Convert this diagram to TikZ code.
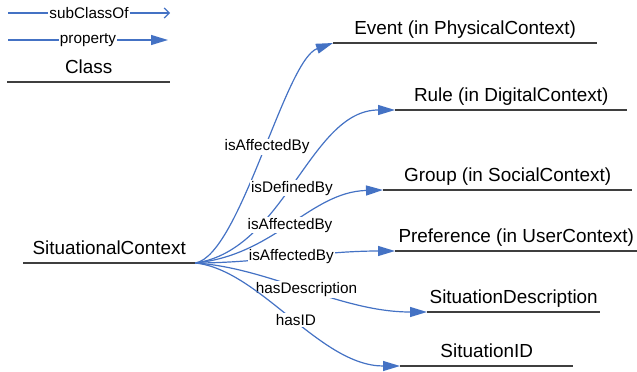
\documentclass[tikz,border=0pt]{standalone}
\usepackage{fontspec}
\setmainfont{Liberation Sans}
\usetikzlibrary{arrows.meta}
\definecolor{eblue}{HTML}{4472C4}
\definecolor{cgray}{HTML}{3F3F3F}
\begin{document}
\begin{tikzpicture}[x=1pt,y=-1pt,
  cls/.style={inner xsep=0pt, inner ysep=8.5pt, text depth=0pt, anchor=south west,
    font=\fontsize{18.9}{22}\selectfont},
  clsline/.style={draw=cgray, line width=1.5pt},
  prop/.style={draw=eblue, line width=1.2pt, -{Triangle[length=17pt,width=10pt]}},
  sub/.style={draw=eblue, line width=1.2pt, -{Straight Barb[length=5pt,width=10pt,line width=1.2pt]}},
  elabel/.style={fill=white, inner sep=1pt, text=black, font=\fontsize{15.3}{17}\selectfont}]
\useasboundingbox (0,0) rectangle (637,372);
% legend
\coordinate (la) at (8,13);
\coordinate (lb) at (170,13);
\draw[sub] (la) -- node[elabel]{subClassOf} (lb);
\coordinate (pa) at (8,40);
\coordinate (pb) at (168,40);
\draw[prop] (pa) -- node[elabel]{property} (pb);
\node[cls, minimum width=163pt] (lc) at (7,82) {Class};
\draw[clsline] (lc.south west) -- (lc.south east);
% classes
\node[cls, minimum width=172pt] (sc) at (23,263) {SituationalContext};
\node[cls, minimum width=264pt] (ev) at (333,43) {Event (in PhysicalContext)};
\node[cls, minimum width=232pt] (ru) at (395,110) {Rule (in DigitalContext)};
\node[cls, minimum width=249pt] (gr) at (383,190) {Group (in SocialContext)};
\node[cls, minimum width=242pt] (pr) at (395,251) {Preference (in UserContext)};
\node[cls, minimum width=173pt] (sd) at (427,312) {SituationDescription};
\node[cls, minimum width=173pt] (si) at (400,366) {SituationID};
\foreach \n in {sc,ev,ru,gr,pr,sd,si}
  \draw[clsline] (\n.south west) -- (\n.south east);
% properties
\draw[prop] (sc.south east) .. controls (240,255) and (285,60) .. node[elabel,pos=0.53]{isAffectedBy} (ev.south west);
\draw[prop] (sc.south east) .. controls (285,250) and (310,110) .. node[elabel,pos=0.47]{isDefinedBy} (ru.south west);
\draw[prop] (sc.south east) .. controls (275,255) and (310,192) .. node[elabel,pos=0.49]{isAffectedBy} (gr.south west);
\draw[prop] (sc.south east) .. controls (260,263) and (320,251) .. node[elabel,pos=0.5]{isAffectedBy} (pr.south west);
\draw[prop] (sc.south east) .. controls (270,268) and (340,312) .. node[elabel,pos=0.5]{hasDescription} (sd.south west);
\draw[prop] (sc.south east) .. controls (260,270) and (320,366) .. node[elabel,pos=0.52]{hasID} (si.south west);
\end{tikzpicture}
\end{document}
